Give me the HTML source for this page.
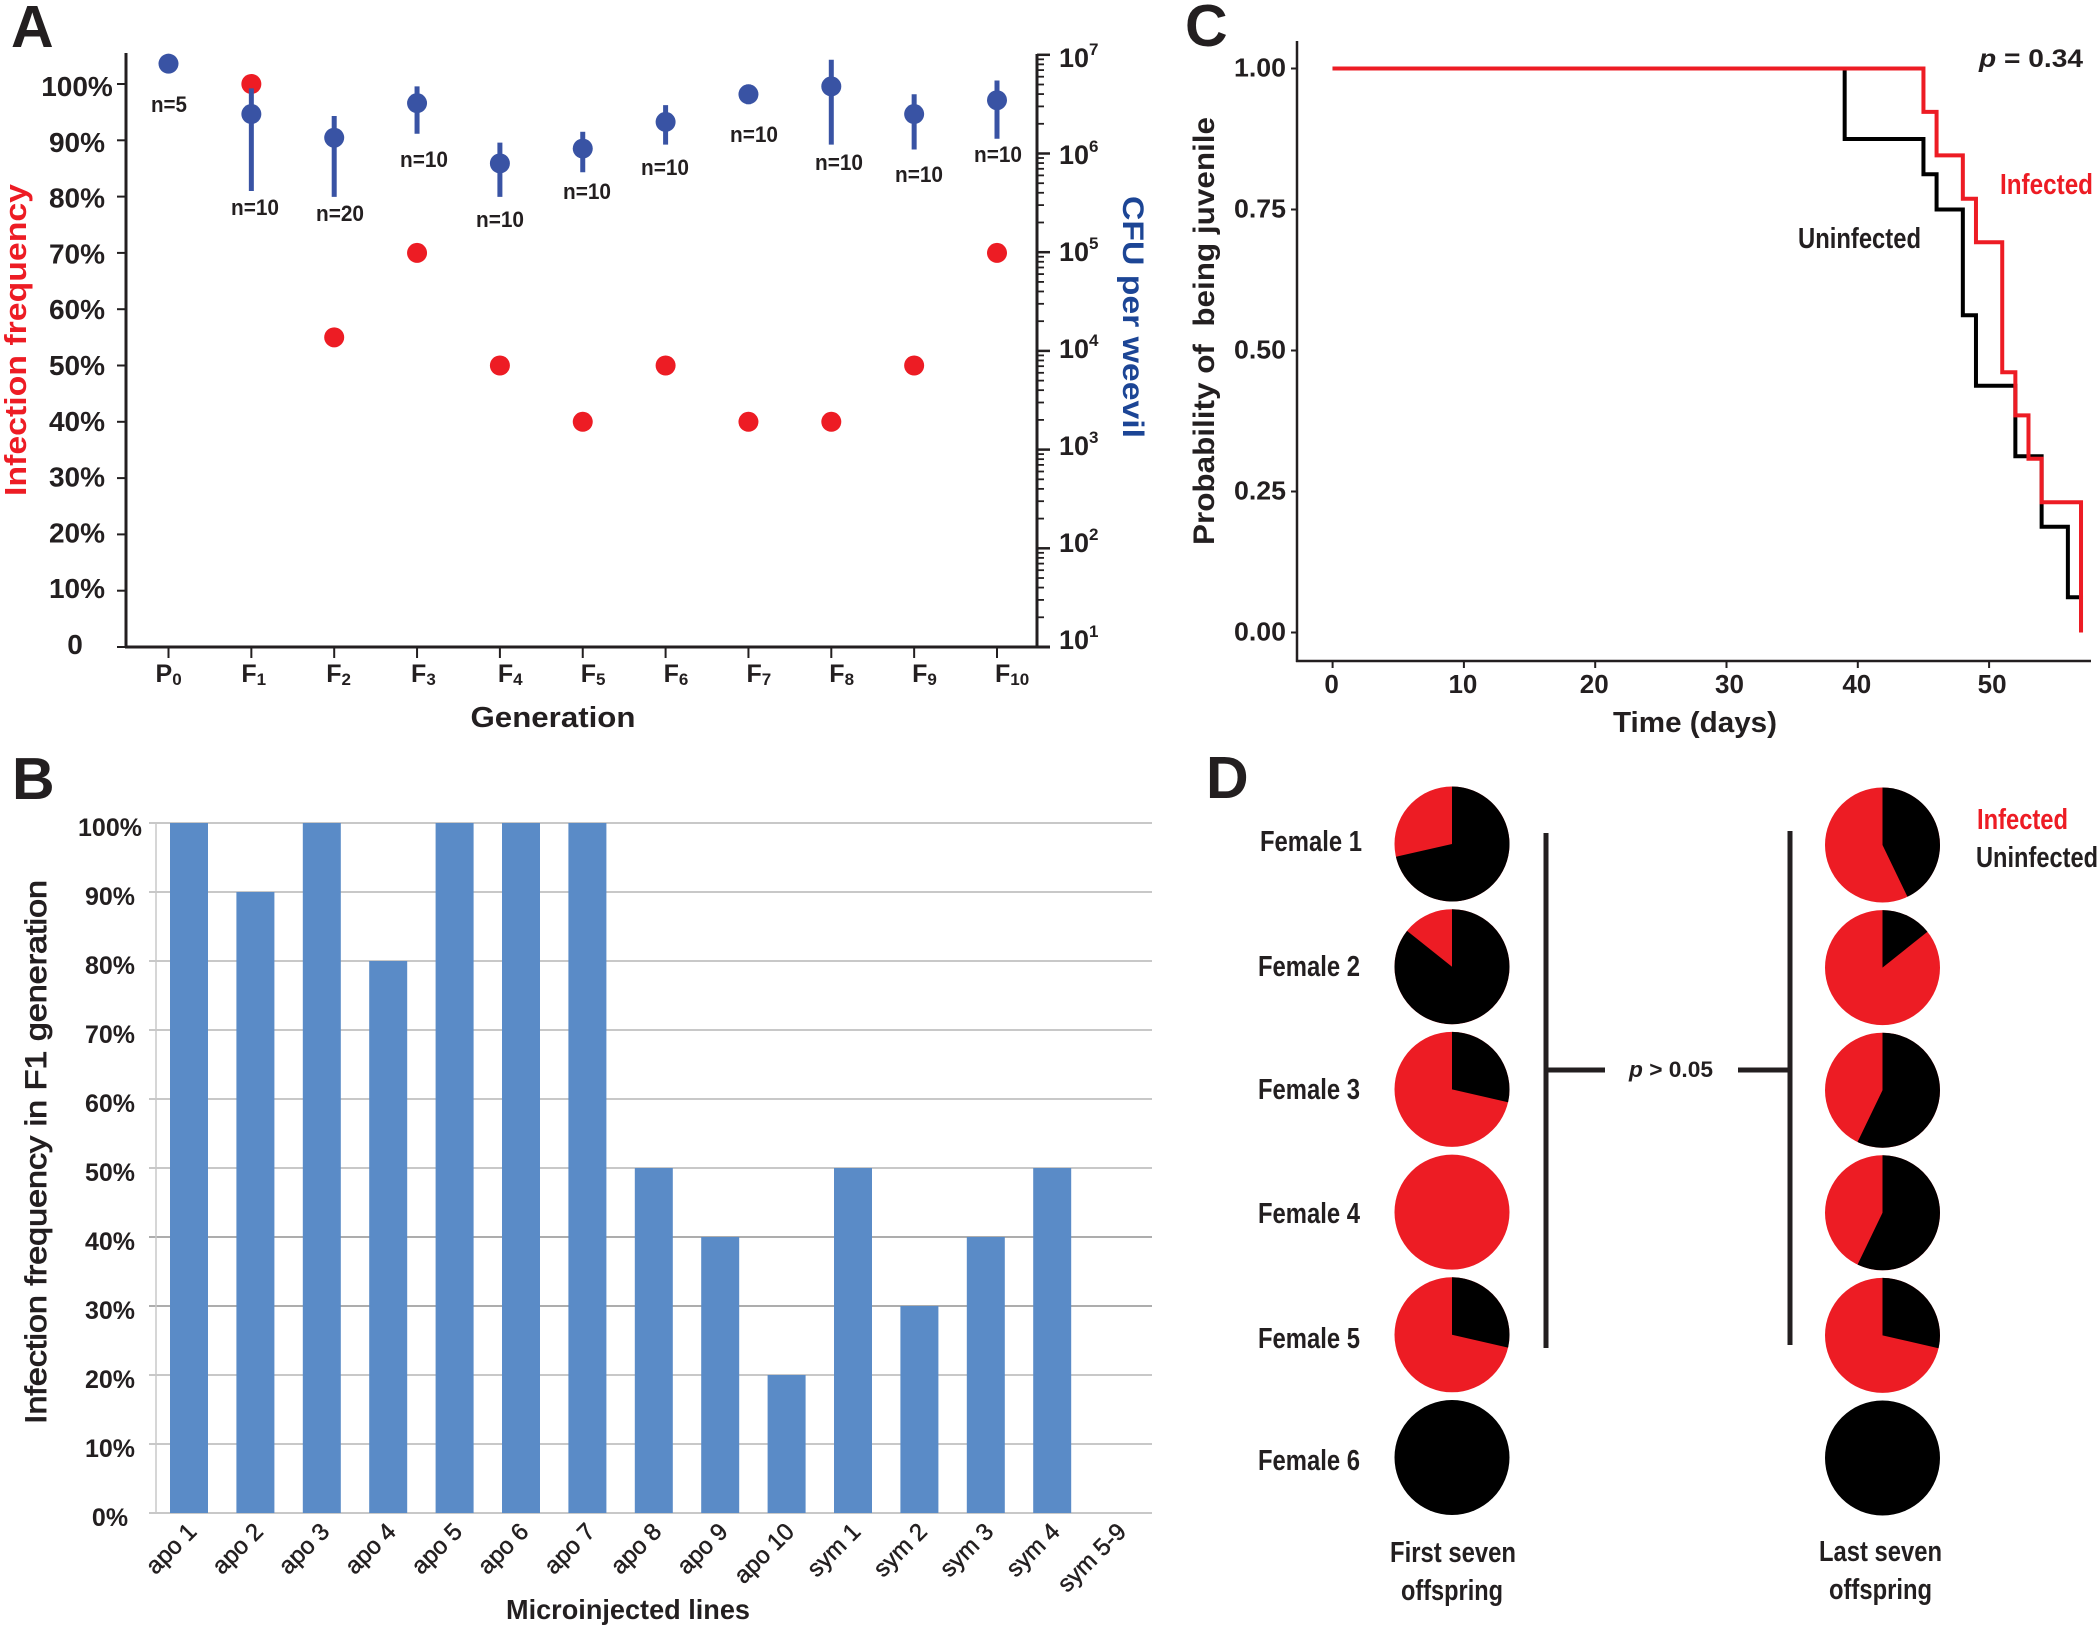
<!DOCTYPE html>
<html lang="en">
<head>
<meta charset="utf-8">
<title>Infection frequency figure</title>
<style>
html,body{margin:0;padding:0;background:#fff;width:2100px;height:1630px;overflow:hidden}
svg{display:block}
text{font-family:"Liberation Sans",Arial,sans-serif;fill:#231f20}
.b{font-weight:bold}
.panel{font-size:59px;font-weight:bold}
.n{font-size:22px;font-weight:bold}
.cond{font-size:29px;font-weight:bold}
</style>
</head>
<body>
<svg id="fig" xmlns="http://www.w3.org/2000/svg" width="2100" height="1630" viewBox="0 0 2100 1630">
  <rect width="2100" height="1630" fill="#fff"/>

  <g id="panelA">
    <text class="panel" x="11" y="47">A</text>
    <g id="aMarks"></g>
    <text x="0" y="0" transform="translate(26,340) rotate(-90)" text-anchor="middle" font-size="31" font-weight="bold" style="fill:#ed1c24" textLength="312" lengthAdjust="spacingAndGlyphs">Infection frequency</text>
    <text x="0" y="0" transform="translate(1123,317) rotate(90)" text-anchor="middle" font-size="30" font-weight="bold" style="fill:#1c4595" textLength="242" lengthAdjust="spacingAndGlyphs">CFU per weevil</text>
    <text class="b" x="553" y="727" text-anchor="middle" font-size="29" textLength="165" lengthAdjust="spacingAndGlyphs">Generation</text>
    <text class="n" x="169" y="112" text-anchor="middle" textLength="36" lengthAdjust="spacingAndGlyphs">n=5</text>
    <text class="n" x="255" y="215" text-anchor="middle" textLength="48" lengthAdjust="spacingAndGlyphs">n=10</text>
    <text class="n" x="340" y="221" text-anchor="middle" textLength="48" lengthAdjust="spacingAndGlyphs">n=20</text>
    <text class="n" x="424" y="167" text-anchor="middle" textLength="48" lengthAdjust="spacingAndGlyphs">n=10</text>
    <text class="n" x="500" y="227" text-anchor="middle" textLength="48" lengthAdjust="spacingAndGlyphs">n=10</text>
    <text class="n" x="587" y="199" text-anchor="middle" textLength="48" lengthAdjust="spacingAndGlyphs">n=10</text>
    <text class="n" x="665" y="175" text-anchor="middle" textLength="48" lengthAdjust="spacingAndGlyphs">n=10</text>
    <text class="n" x="754" y="142" text-anchor="middle" textLength="48" lengthAdjust="spacingAndGlyphs">n=10</text>
    <text class="n" x="839" y="170" text-anchor="middle" textLength="48" lengthAdjust="spacingAndGlyphs">n=10</text>
    <text class="n" x="919" y="182" text-anchor="middle" textLength="48" lengthAdjust="spacingAndGlyphs">n=10</text>
    <text class="n" x="998" y="162" text-anchor="middle" textLength="48" lengthAdjust="spacingAndGlyphs">n=10</text>
  </g>

  <g id="panelB">
    <text class="panel" x="12" y="799">B</text>
    <g id="bMarks"></g>
    <text x="0" y="0" transform="translate(46,1152) rotate(-90)" text-anchor="middle" font-size="30" stroke="#231f20" stroke-width="0.9" textLength="544" lengthAdjust="spacingAndGlyphs">Infection frequency in F1 generation</text>
    <text class="b" x="628" y="1619" text-anchor="middle" font-size="28" textLength="244" lengthAdjust="spacingAndGlyphs">Microinjected lines</text>
  </g>

  <g id="panelC">
    <text class="panel" x="1185" y="46">C</text>
    <g id="cMarks"></g>
    <text class="b" x="0" y="0" transform="translate(1214,331) rotate(-90)" text-anchor="middle" font-size="30" textLength="428" lengthAdjust="spacingAndGlyphs" xml:space="preserve">Probability of  being juvenile</text>
    <text class="b" x="1695" y="732" text-anchor="middle" font-size="29" textLength="164" lengthAdjust="spacingAndGlyphs">Time (days)</text>
    <text class="b" x="1979" y="67" font-size="25" textLength="104" lengthAdjust="spacingAndGlyphs"><tspan font-style="italic">p</tspan> = 0.34</text>
    <text class="cond" x="2000" y="194" style="fill:#ed1c24" textLength="93" lengthAdjust="spacingAndGlyphs">Infected</text>
    <text class="cond" x="1798" y="248" textLength="123" lengthAdjust="spacingAndGlyphs">Uninfected</text>
  </g>

  <g id="panelD">
    <text class="panel" x="1206" y="798">D</text>
    <g id="dMarks"></g>
    <rect x="1543.500" y="833" width="5" height="515" fill="#231f20"/>
    <rect x="1546" y="1067.500" width="59" height="5" fill="#231f20"/>
    <rect x="1787.500" y="831" width="5" height="514" fill="#231f20"/>
    <rect x="1738" y="1067.500" width="52" height="5" fill="#231f20"/>
    <text class="b" x="1629" y="1077" font-size="22" textLength="84" lengthAdjust="spacingAndGlyphs"><tspan font-style="italic">p</tspan> &gt; 0.05</text>
    <text class="cond" x="1260" y="851" textLength="102" lengthAdjust="spacingAndGlyphs">Female 1</text>
    <text class="cond" x="1258" y="976" textLength="102" lengthAdjust="spacingAndGlyphs">Female 2</text>
    <text class="cond" x="1258" y="1099" textLength="102" lengthAdjust="spacingAndGlyphs">Female 3</text>
    <text class="cond" x="1258" y="1223" textLength="102" lengthAdjust="spacingAndGlyphs">Female 4</text>
    <text class="cond" x="1258" y="1348" textLength="102" lengthAdjust="spacingAndGlyphs">Female 5</text>
    <text class="cond" x="1258" y="1470" textLength="102" lengthAdjust="spacingAndGlyphs">Female 6</text>
    <text class="cond" x="1390" y="1562" textLength="126" lengthAdjust="spacingAndGlyphs">First seven</text>
    <text class="cond" x="1401" y="1600" textLength="102" lengthAdjust="spacingAndGlyphs">offspring</text>
    <text class="cond" x="1819" y="1561" textLength="123" lengthAdjust="spacingAndGlyphs">Last seven</text>
    <text class="cond" x="1829" y="1599" textLength="103" lengthAdjust="spacingAndGlyphs">offspring</text>
    <text class="cond" x="1977" y="829" style="fill:#ed1c24" textLength="91" lengthAdjust="spacingAndGlyphs">Infected</text>
    <text class="cond" x="1976" y="867" textLength="122" lengthAdjust="spacingAndGlyphs">Uninfected</text>
  </g>
</svg>

<script>
// Panel A data
const generations = ['P','F','F','F','F','F','F','F','F','F','F'];
const generationSubs = ['0','1','2','3','4','5','6','7','8','9','10'];
const infectionFreq = [null,100,55,70,50,40,50,40,40,50,70];
const cfuLog10 = [6.91,6.40,6.16,6.51,5.90,6.05,6.32,6.60,6.68,6.40,6.54];
const cfuLog10Low = [6.91,5.62,5.56,6.20,5.56,5.81,6.09,6.50,6.09,6.04,6.15];
const cfuLog10High = [6.91,6.66,6.38,6.68,6.11,6.22,6.49,6.70,6.95,6.60,6.74];
const freqTicks = [0,10,20,30,40,50,60,70,80,90,100];
const cfuExponents = [1,2,3,4,5,6,7];
// Panel B data
const lineNames = ['apo 1','apo 2','apo 3','apo 4','apo 5','apo 6','apo 7','apo 8','apo 9','apo 10','sym 1','sym 2','sym 3','sym 4','sym 5-9'];
const lineFreq = [100,90,100,80,100,100,100,50,40,20,50,30,40,50,0];
const barTicks = [0,10,20,30,40,50,60,70,80,90,100];
// Panel C data
const uninfectedTimes = [39,45,46,48,49,52,54,56,57];
const uninfectedSurvival = [0.875,0.8125,0.75,0.5625,0.4375,0.3125,0.1875,0.0625,0];
const infectedTimes = [45,46,48,49,51,52,53,54,57];
const infectedSurvival = [0.923,0.846,0.769,0.692,0.4615,0.385,0.308,0.231,0];
const survivalTicks = [0,0.25,0.5,0.75,1];
const timeTicks = [0,10,20,30,40,50];
// Panel D data: infected offspring out of seven
const firstSevenInfected = [2,1,5,7,5,0];
const lastSevenInfected = [4,6,3,3,5,0];
const offspringTotal = 7;

const NS = 'http://www.w3.org/2000/svg';
const INK = '#231f20', RED = '#ed1c24', BLUE = '#3953a4', BAR = '#5a8bc7', GRID = '#c8c8c8', GRID_DARK = '#adadad';

function mk(parent, tag, attrs, txt) {
  const el = document.createElementNS(NS, tag);
  for (const k in attrs) el.setAttribute(k, attrs[k]);
  if (txt !== undefined) el.textContent = txt;
  parent.appendChild(el);
  return el;
}

// ---------- Panel A ----------
const aG = document.getElementById('aMarks');
const aX = i => 168.500 + 82.85 * i;
const aFreqY = v => 647 - 5.63 * v;
const aCfuY = e => 647 - 98.7 * (e - 1);

let el = mk(aG, 'line', {x1:126, x2:126, y1:53, y2:648, stroke:INK, 'stroke-width':3});


el = mk(aG, 'line', {x1:1037, x2:1037, y1:54, y2:648, stroke:INK, 'stroke-width':3});


el = mk(aG, 'line', {x1:125, x2:1050, y1:647, y2:647, stroke:INK, 'stroke-width':3});



freqTicks.forEach(v => {
  let t = mk(aG, 'line', {x1:117, x2:126, y1:aFreqY(v), y2:aFreqY(v), stroke:INK, 'stroke-width':2});
  
  
  t = mk(aG, 'text', {x:v === 0 ? 75 : 77, y:654 - 5.58 * v, 'text-anchor':'middle', 'font-size':28, 'font-weight':'bold'}, v === 0 ? '0' : v + '%');
  
  
});

cfuExponents.forEach(e => {
  const y = aCfuY(e);
  const base = 649 - 97 * (e - 1);
  let t = mk(aG, 'line', {x1:1037, x2:1050, y1:y, y2:y, stroke:INK, 'stroke-width':2.5});
  
  
  if (e < 7) {
    [2,3,4,5,6,7,8,9].forEach(m => {
      const my = aCfuY(e + Math.log10(m));
      const mt = mk(aG, 'line', {x1:1037, x2:1044, y1:my, y2:my, stroke:INK, 'stroke-width':1.8});
      
      
    });
  }
  t = mk(aG, 'text', {x:1059, y:base, 'font-size':27, 'font-weight':'bold'}, '10');
  
  
  t = mk(aG, 'text', {x:1089, y:base - 12, 'font-size':17, 'font-weight':'bold'}, String(e));
  
  
});

generations.forEach((g, i) => {
  const x = aX(i);
  let t = mk(aG, 'line', {x1:x, x2:x, y1:647, y2:658, stroke:INK, 'stroke-width':2});
  
  
  const lbl = mk(aG, 'text', {x:x + (i === 0 ? -13 : i < 4 ? -12 + i * 2 : -2), y:682, 'font-size':25, 'font-weight':'bold'});
  
  
  mk(lbl, 'tspan', {}, g);
  mk(lbl, 'tspan', {'font-size':17, dy:3}, generationSubs[i]);
});

infectionFreq.forEach((v, i) => {
  if (v === null) return;
  const d = mk(aG, 'circle', {cx:aX(i), cy:aFreqY(v), r:10, fill:RED});
  
  
});
cfuLog10.forEach((v, i) => {
  const x = aX(i);
  const e = mk(aG, 'line', {x1:x, x2:x, y1:aCfuY(cfuLog10High[i]), y2:aCfuY(cfuLog10Low[i]), stroke:BLUE, 'stroke-width':5});
  
  
  const d = mk(aG, 'circle', {cx:x, cy:aCfuY(v), r:10, fill:BLUE});
  
  
});

// ---------- Panel B ----------
const bG = document.getElementById('bMarks');
const bX = i => 189 + 66.4 * i;
const bY = v => 1513 - 6.9 * v;
barTicks.forEach(v => {
  const y = bY(v);
  let t = mk(bG, 'line', {x1:149, x2:1152, y1:y, y2:y, stroke:(v === 30 || v === 40) ? GRID_DARK : GRID, 'stroke-width':2});
  
  
  t = mk(bG, 'text', {x:110, y:1526 - 6.9 * v, 'text-anchor':'middle', 'font-size':25, 'font-weight':'bold'}, v + '%');
  
  
});
el = mk(bG, 'line', {x1:156, x2:156, y1:bY(100), y2:bY(0), stroke:GRID, 'stroke-width':1.5});


lineFreq.forEach((v, i) => {
  if (v > 0) {
    const r = mk(bG, 'rect', {x:bX(i) - 19, y:bY(v), width:38, height:bY(0) - bY(v), fill:BAR});
    
    
  }
  const cx = bX(i) + 9;
  const t = mk(bG, 'text', {x:0, y:0, transform:'translate(' + cx + ',1533) rotate(-45)', 'text-anchor':'end', 'font-size':24, stroke:INK, 'stroke-width':0.5}, lineNames[i]);
  
  
});

// ---------- Panel C ----------
const cG = document.getElementById('cMarks');
const cX = t => 1332.6 + 13.13 * t;
const cY = s => 632.5 - 564 * s;
el = mk(cG, 'line', {x1:1297, x2:1297, y1:41, y2:662, stroke:INK, 'stroke-width':2.5});


el = mk(cG, 'line', {x1:1296, x2:2091, y1:661, y2:661, stroke:INK, 'stroke-width':2.5});


survivalTicks.forEach(s => {
  const y = cY(s);
  let t = mk(cG, 'line', {x1:1291, x2:1297, y1:y, y2:y, stroke:INK, 'stroke-width':2});
  
  
  t = mk(cG, 'text', {x:1286, y:y + 8, 'text-anchor':'end', 'font-size':26, 'font-weight':'bold', textLength:52, lengthAdjust:'spacingAndGlyphs'}, s.toFixed(2));
  
  
});
timeTicks.forEach(v => {
  const x = cX(v);
  let t = mk(cG, 'line', {x1:x, x2:x, y1:661, y2:668, stroke:INK, 'stroke-width':2});
  
  
  t = mk(cG, 'text', {x:x + ((v === 30 || v === 50) ? 3 : -1), y:693, 'text-anchor':'middle', 'font-size':26, 'font-weight':'bold'}, String(v));
  
  
});
function stepPath(times, vals) {
  let d = 'M' + cX(0) + ' ' + cY(1);
  let prev = 1;
  times.forEach((t, i) => {
    d += ' L' + cX(t) + ' ' + cY(prev) + ' L' + cX(t) + ' ' + cY(vals[i]);
    prev = vals[i];
  });
  return d;
}
el = mk(cG, 'path', {d:stepPath(uninfectedTimes, uninfectedSurvival), fill:'none', stroke:'#000', 'stroke-width':4});


el = mk(cG, 'path', {d:stepPath(infectedTimes, infectedSurvival), fill:'none', stroke:RED, 'stroke-width':4});



// ---------- Panel D ----------
const dG = document.getElementById('dMarks');
function pie(cx, cy, r, infected) {
  const blackFrac = 1 - infected / offspringTotal;
  const base = mk(dG, 'circle', {cx:cx, cy:cy, r:r, fill:infected > 0 ? RED : '#000'});
  
  
  if (infected > 0 && blackFrac > 0) {
    const a = blackFrac * 2 * Math.PI;
    const x = cx + r * Math.sin(a), y = cy - r * Math.cos(a);
    const large = blackFrac > 0.5 ? 1 : 0;
    const w = mk(dG, 'path', {d:'M' + cx + ' ' + cy + ' L' + cx + ' ' + (cy - r) + ' A' + r + ' ' + r + ' 0 ' + large + ' 1 ' + x + ' ' + y + ' Z', fill:'#000'});
    
    
  }
}
firstSevenInfected.forEach((v, i) => pie(1452, 844 + 122.7 * i, 57.5, v));
lastSevenInfected.forEach((v, i) => pie(1882.500, 845 + 122.6 * i, 57.5, v));
</script>
</body>
</html>
